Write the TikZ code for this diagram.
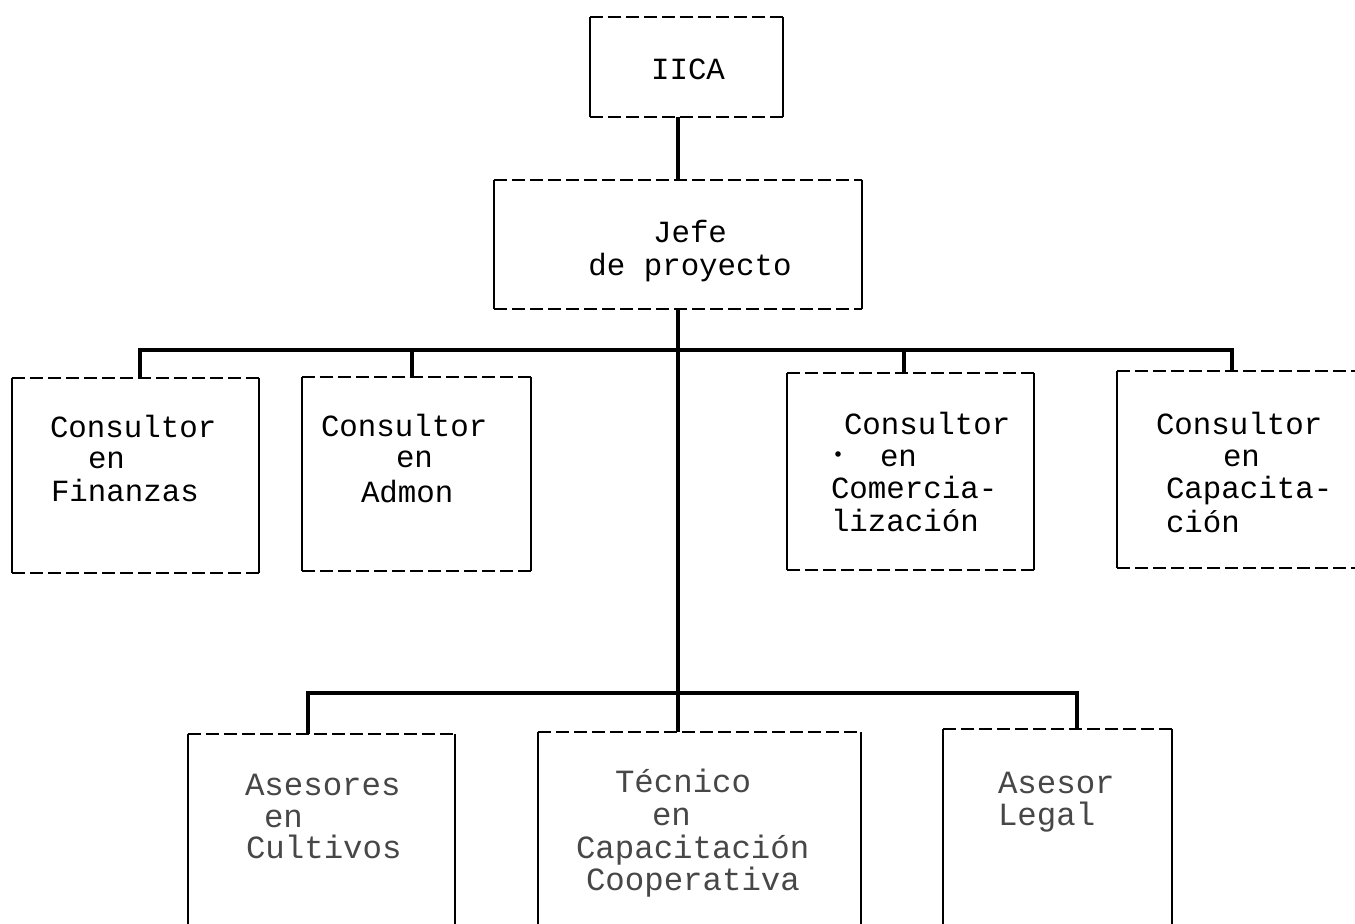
\documentclass[tikz,border=0pt]{standalone}
\usepackage{fontspec}
\newfontfamily\drawfont{Liberation Mono}
\newcommand\upfont{\drawfont\fontsize{15.4}{16}\selectfont}
\newcommand\lowfont{\drawfont\fontsize{16.2}{17}\selectfont\color{black!72}}
\begin{document}
\begin{tikzpicture}[x=0.5pt,y=-0.5pt,
  bx/.style={rectangle,draw=none,inner sep=0pt,outer sep=0pt},
  hdash/.style={line width=1.2pt,dash pattern=on 6.5pt off 2.5pt},
  vside/.style={line width=1.2pt},
  conn/.style={line width=1.7pt,line join=miter},
  lbl/.style={anchor=base west,inner sep=0pt,outer sep=0pt,font=\upfont},
  lowlbl/.style={anchor=base west,inner sep=0pt,outer sep=0pt,font=\lowfont},
  cen/.style={anchor=base,inner sep=0pt,outer sep=0pt,font=\upfont}]
\useasboundingbox (0,0) rectangle (1355,924);
\clip (0,0) rectangle (1355,924);
\fill[white] (0,0) rectangle (1355,924);

% boxes
\node[bx,minimum width=96.5pt,minimum height=50pt] (iica) at (686.5,67) {};
\node[bx,minimum width=184pt,minimum height=64.5pt] (jefe) at (678,244.5) {};
\node[bx,minimum width=123.5pt,minimum height=97.5pt] (fin) at (135.5,475.5) {};
\node[bx,minimum width=114.5pt,minimum height=97pt] (adm) at (416.5,474) {};
\node[bx,minimum width=123.5pt,minimum height=98.5pt] (com) at (910.5,471.5) {};
\node[bx,minimum width=129pt,minimum height=98.5pt] (cap) at (1246,469.5) {};
\node[bx,minimum width=133.5pt,minimum height=103pt] (ase) at (321.5,837) {};
\node[bx,minimum width=161.5pt,minimum height=104pt] (tec) at (699.5,836) {};
\node[bx,minimum width=114.5pt,minimum height=105.5pt] (leg) at (1057.5,834.5) {};

\foreach \n in {iica,jefe,fin,adm,com,cap,ase,tec,leg}{
  \draw[hdash] (\n.north west) -- (\n.north east);
  \draw[hdash] (\n.south west) -- (\n.south east);
  \draw[vside] (\n.north west) -- (\n.south west);
  \draw[vside] (\n.north east) -- (\n.south east);
}

% texts
\node[cen] (iicat) at (688,80) {IICA};
\node[cen] (jefe1) at (690,243) {Jefe};
\node[cen] (jefe2) at (690,276) {de proyecto};

\node[lbl] (fin1) at (50,438) {Consultor};
\node[lbl] (fin2) at (88,469) {en};
\node[lbl] (fin3) at (51,502) {Finanzas};

\node[lbl] (adm1) at (321,437) {Consultor};
\node[lbl] (adm2) at (396,468) {en};
\node[lbl] (adm3) at (361,503) {Admon};

\node[lbl] (com1) at (844,435) {Consultor};
\node[circle,fill=black,inner sep=0pt,minimum size=2.8pt] (dot) at (838,454) {};
\node[lbl] (com2) at (880,467) {en};
\node[lbl] (com3) at (831,499) {Comercia-};
\node[lbl] (com4) at (831,532) {lización};

\node[lbl] (cap1) at (1156,435) {Consultor};
\node[lbl] (cap2) at (1223,467) {en};
\node[lbl] (cap3) at (1166,499) {Capacita-};
\node[lbl] (cap4) at (1166,533) {ción};

\node[lowlbl] (ase1) at (245,795) {Asesores};
\node[lowlbl] (ase2) at (264,827) {en};
\node[lowlbl] (ase3) at (246,858) {Cultivos};

\node[lowlbl] (tec1) at (615,792) {Técnico};
\node[lowlbl] (tec2) at (652,825) {en};
\node[lowlbl] (tec3) at (576,858) {Capacitación};
\node[lowlbl] (tec4) at (586,890) {Cooperativa};

\node[lowlbl] (leg1) at (998,793) {Asesor};
\node[lowlbl] (leg2) at (998,825) {Legal};

% connectors
\coordinate (u1) at (140,350);
\coordinate (u2) at (412,350);
\coordinate (u3) at (904,350);
\coordinate (u4) at (1232,350);
\coordinate (l1) at (308,693);
\coordinate (l2) at (1077,693);

\draw[conn] (iica.south -| jefe.north) -- (jefe.north);
\draw[conn] (jefe.south) -- (jefe.south |- tec.north);
\draw[conn] (fin.north -| u1) -- (u1) -- (u4) -- (cap.north -| u4);
\draw[conn] (u2) -- (adm.north -| u2);
\draw[conn] (u3) -- (com.north -| u3);
\draw[conn] (ase.north -| l1) -- (l1) -- (l2) -- (leg.north -| l2);
\end{tikzpicture}
\end{document}
